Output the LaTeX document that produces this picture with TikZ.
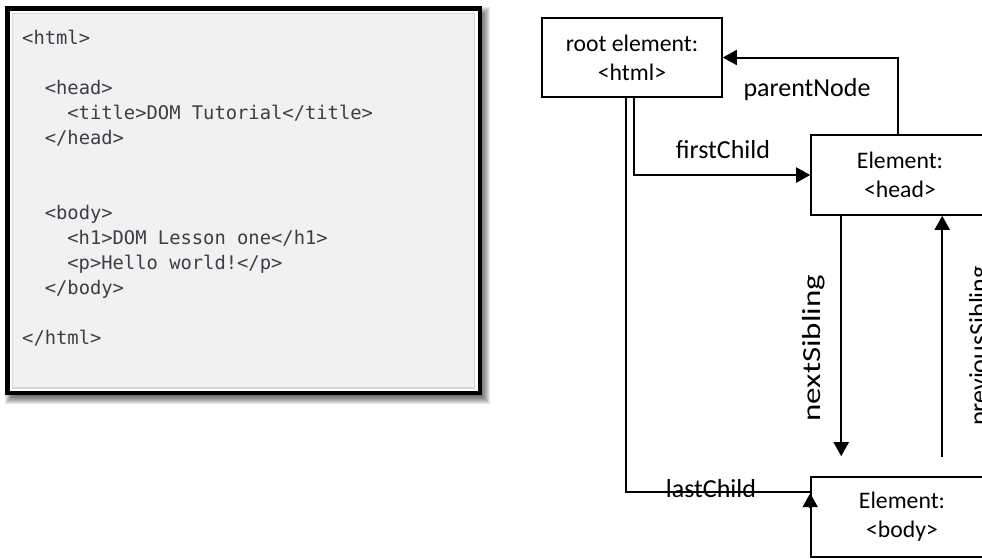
\documentclass[tikz,border=0pt]{standalone}
\usepackage{fontspec}
\setmainfont{Carlito}
\setmonofont{DejaVu Sans Mono}
\usetikzlibrary{arrows.meta}
\definecolor{codebg}{HTML}{F1F1F1}
\definecolor{codeline}{HTML}{D9D9D9}
\definecolor{codetext}{HTML}{3A3F47}
\begin{document}
\begin{tikzpicture}[x=1pt,y=-1pt,
  codeln/.style={anchor=base west, inner sep=0pt, font=\fontsize{18.8}{25}\ttfamily, text=codetext},
  elbox/.style={draw, line width=1.6pt, align=center, inner sep=0pt, fill=white, font=\fontsize{23.7}{29}\selectfont},
  lbl/.style={anchor=base, inner sep=0pt, font=\fontsize{26}{30}\selectfont},
  conn/.style={line width=2pt},
  arr/.style={line width=2pt, -{Triangle[width=15pt,length=14pt]}}]
\useasboundingbox (0,0) rectangle (982,558);
\clip (0,0) rectangle (982,558);
% shadow of code panel
\foreach \k in {-4,...,4}
  \fill[black, opacity=0.085] ({9-\k},{11-\k}) rectangle ({486+\k},{400+\k});
% code panel
\fill[black] (5,6) rectangle (482,395);
\fill[white] (9.5,10.5) rectangle (477.5,390.5);
\filldraw[fill=codebg, draw=codeline, line width=1.4pt] (12.3,13.3) rectangle (474.7,388);
% code text
\node[codeln] (c1) at (22,44) {<html>};
\node[codeln] (c2) at (44.6,94) {<head>};
\node[codeln] (c3) at (67.2,119) {<title>DOM Tutorial</title>};
\node[codeln] (c4) at (44.6,144) {</head>};
\node[codeln] (c5) at (44.6,219) {<body>};
\node[codeln] (c6) at (67.2,244) {<h1>DOM Lesson one</h1>};
\node[codeln] (c7) at (67.2,269) {<p>Hello world!</p>};
\node[codeln] (c8) at (44.6,294) {</body>};
\node[codeln] (c9) at (22,344) {</html>};
% DOM nodes
\node[elbox, minimum width=180pt, minimum height=79pt] (root) at (632,57.5) {root element:\\<html>};
\node[elbox, minimum width=178pt, minimum height=80pt] (head) at (900,175) {Element:\\<head>};
\node[elbox, minimum width=182pt, minimum height=80pt] (body) at (902,517) {Element:\\<body>};
% connectors
\draw[arr] ([xshift=-2pt]head.north) |- (root.east);
\draw[arr] ([xshift=2pt]root.south) |- (head.west);
\draw[conn] ([xshift=-6pt]root.south) |- ([yshift=-16pt]body.north west);
\draw[arr] ([yshift=-32pt]body.north west) -- ([yshift=-17pt]body.north west);
\draw[arr] ([xshift=31pt]head.south west) -- ([xshift=31pt,yshift=20pt]body.north west);
\draw[arr] ([xshift=132pt,yshift=19pt]body.north west) -- ([xshift=132pt]head.south west);
% labels
\node[lbl] (lparent) at (807,96) {parentNode};
\node[lbl] (lfirst) at (723,158) {firstChild};
\node[lbl] (llast) at (711,497) {lastChild};
\node[lbl, rotate=90] (lnext) at (820,348) {\scalebox{1.27}[1]{nextSibling}};
\node[lbl, rotate=90] (lprev) at (987,346) {previousSibling};
\end{tikzpicture}
\end{document}
